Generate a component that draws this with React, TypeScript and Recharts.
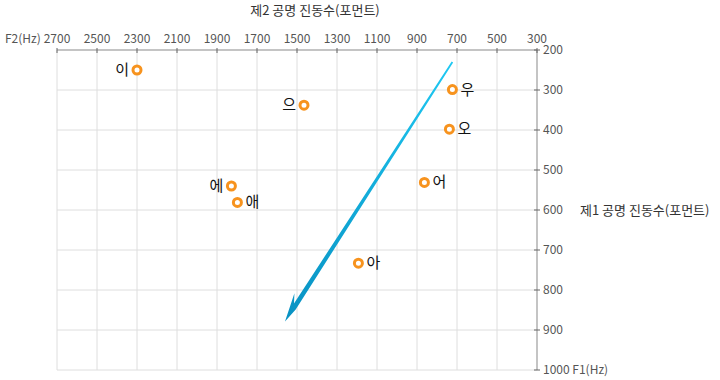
import React from "react";
import { CartesianGrid, ReferenceLine, Scatter, ScatterChart, XAxis, YAxis } from "recharts";

const vowels = ["이", "으", "에", "애", "아", "우", "오", "어"];
const f2Values = [2300, 1465, 1828, 1798, 1193, 723, 738, 863];
const f1Values = [250, 338, 540, 581, 733, 299, 398, 531];

const f2Ticks = [2700, 2500, 2300, 2100, 1900, 1700, 1500, 1300, 1100, 900, 700, 500, 300];
const f1Ticks = [200, 300, 400, 500, 600, 700, 800, 900, 1000];

// arrow start / end in (F2, F1)
const arrowF2 = [723, 1560];
const arrowF1 = [230, 879];

const leftLabeled = ["이", "으", "에"];

const points = vowels.map((name, i) => ({ name, f2: f2Values[i], f1: f1Values[i] }));

const FONT = "'Noto Sans CJK KR', 'Noto Sans', sans-serif";
const TICK_COLOR = "#555";

function TopTick(props: any) {
  const { x, y, payload } = props;
  return (
    <g>
      <line x1={x} x2={x} y1={y - 2} y2={y + 3} stroke="#666" />
      <text x={x} y={y - 7} textAnchor="middle" fontSize={12} fill={TICK_COLOR} fontFamily={FONT}>
        {payload.value}
      </text>
    </g>
  );
}

function RightTick(props: any) {
  const { x, y, payload } = props;
  const label = payload.value === 1000 ? "1000 F1(Hz)" : String(payload.value);
  return (
    <g>
      <line x1={x - 3} x2={x + 3} y1={y} y2={y} stroke="#666" />
      <text x={x + 6} y={y + 4} textAnchor="start" fontSize={12} fill={TICK_COLOR} fontFamily={FONT}>
        {label}
      </text>
    </g>
  );
}

function VowelDot(props: any) {
  const { cx, cy, payload } = props;
  const left = leftLabeled.includes(payload.name);
  return (
    <g>
      <circle cx={cx} cy={cy} r={4} fill="#fff" stroke="#f7931e" strokeWidth={3} />
      <text
        x={left ? cx - 8 : cx + 8}
        y={cy + 5}
        textAnchor={left ? "end" : "start"}
        fontSize={15}
        fill="#111"
        fontFamily={FONT}
      >
        {payload.name}
      </text>
    </g>
  );
}

function ArrowShape(props: any) {
  const { x1, y1, x2, y2 } = props;
  const dx = x2 - x1;
  const dy = y2 - y1;
  const len = Math.hypot(dx, dy);
  const ux = dx / len;
  const uy = dy / len;
  const nx = -uy;
  const ny = ux;
  const p = (bx: number, by: number, along: number, side: number) =>
    `${bx - ux * along + nx * side},${by - uy * along + ny * side}`;
  const pts = [
    p(x1, y1, 0, 0.9),
    p(x2, y2, 20, 2.2),
    p(x2, y2, 29, 7.5),
    p(x2, y2, 0, 0),
    p(x2, y2, 16, -2.4),
    p(x1, y1, 0, -0.9),
  ].join(" ");
  return (
    <g>
      <defs>
        <linearGradient id="arrowGrad" gradientUnits="userSpaceOnUse" x1={x1} y1={y1} x2={x2} y2={y2}>
          <stop offset="0%" stopColor="#1ec8f2" />
          <stop offset="100%" stopColor="#0891c2" />
        </linearGradient>
      </defs>
      <polygon points={pts} fill="url(#arrowGrad)" />
    </g>
  );
}

export default function App() {
  return (
    <div style={{ position: "absolute", left: 0, top: 0, width: 720, height: 380, background: "#fff" }}>
      <ScatterChart width={720} height={380} margin={{ top: 20, right: 143, bottom: 10, left: 57 }}>
        <CartesianGrid stroke="#dedede" />
        <XAxis
          type="number"
          dataKey="f2"
          orientation="top"
          reversed
          domain={[300, 2700]}
          ticks={f2Ticks}
          height={30}
          tickSize={0}
          tickMargin={0}
          tickLine={false}
          axisLine={{ stroke: "#999" }}
          tick={<TopTick />}
          interval={0}
        />
        <YAxis
          type="number"
          dataKey="f1"
          orientation="right"
          reversed
          domain={[200, 1000]}
          ticks={f1Ticks}
          width={40}
          tickSize={0}
          tickMargin={0}
          tickLine={false}
          axisLine={{ stroke: "#999" }}
          tick={<RightTick />}
          interval={0}
        />
        <ReferenceLine
          segment={[
            { x: arrowF2[0], y: arrowF1[0] },
            { x: arrowF2[1], y: arrowF1[1] },
          ]}
          shape={<ArrowShape />}
          ifOverflow="visible"
        />
        <Scatter data={points} shape={<VowelDot />} isAnimationActive={false} />
        <text x={315} y={15} textAnchor="middle" fontSize={13} fill="#333" fontFamily={FONT}>
          제2 공명 진동수(포먼트)
        </text>
        <text x={5} y={43} textAnchor="start" fontSize={12} fill={TICK_COLOR} fontFamily={FONT}>
          F2(Hz)
        </text>
        <text x={580} y={215} textAnchor="start" fontSize={13} fill="#333" fontFamily={FONT}>
          제1 공명 진동수(포먼트)
        </text>
      </ScatterChart>
    </div>
  );
}
